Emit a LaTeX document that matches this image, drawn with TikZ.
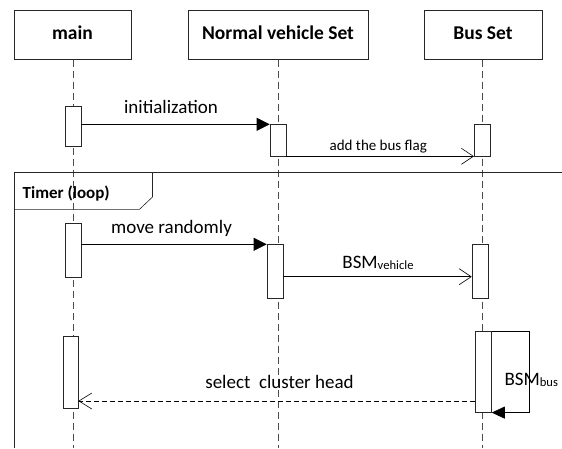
\documentclass[tikz,border=0pt]{standalone}
\usepackage{fontspec}
\setmainfont{Carlito}
\usetikzlibrary{arrows.meta}
\begin{document}
\begin{tikzpicture}[x=1pt,y=-1pt,
  header/.style={draw=black!85,line width=0.6pt,fill=white,minimum height=49.3pt,font=\fontsize{19.5}{22}\selectfont\bfseries,inner sep=0pt,text height=12pt,text depth=2.8pt},
  lifeline/.style={draw=black!70,line width=0.6pt,dash pattern=on 7pt off 4pt},
  frame/.style={draw=black!85,line width=0.6pt},
  act/.style={draw=black!85,line width=0.6pt,fill=white,minimum width=16pt,inner sep=0pt,anchor=north},
  msg/.style={font=\fontsize{19}{22}\selectfont,inner sep=0pt,anchor=base},
  smallmsg/.style={font=\fontsize{15}{18}\selectfont,inner sep=0pt,anchor=base},
  synch/.style={line width=0.6pt,-{Triangle[length=13pt,width=13pt]}},
  asynch/.style={line width=0.6pt,-{Straight Barb[length=12pt,width=16pt,line width=0.6pt]}},
  reply/.style={line width=0.6pt,dash pattern=on 5pt off 3pt,-{Straight Barb[length=13pt,width=16pt,line width=0.6pt]}}
]
\useasboundingbox (0,0) rectangle (562,448);
% headers
\node[header,minimum width=117pt] (main) at (72.5,34.7) {main};
\node[header,minimum width=180pt] (nv) at (278,34.7) {Normal vehicle Set};
\node[header,minimum width=118pt] (bus) at (483,34.7) {Bus Set};
% lifelines
\coordinate (mainend) at (73,448);
\coordinate (nvend) at (278.5,448);
\coordinate (busend) at (482,448);
\draw[lifeline] (main.south -| mainend) -- (mainend);
\draw[lifeline] (nv.south -| nvend) -- (nvend);
\draw[lifeline] (bus.south -| busend) -- (busend);
% loop frame
\coordinate (fbl) at (14,448);
\coordinate (ftl) at (14,172.7);
\coordinate (ftr) at (562,172.7);
\draw[frame] (fbl) -- (ftl) -- (ftr);
\draw[frame] (14,209.3) -- (139.5,209.3) -- (152.5,197) -- (152.5,172.7);
\node[font=\fontsize{17}{20}\selectfont\bfseries,anchor=base west,inner sep=0pt] (timer) at (22.5,198.3) {Timer (loop)};
% activations
\node[act,minimum height=40.3pt] (m1) at (73,105.7) {};
\node[act,minimum height=31.4pt] (n1) at (278,124.3) {};
\node[act,minimum height=31.4pt,minimum width=16.5pt] (b1) at (482.5,124.3) {};
\node[act,minimum height=54.2pt] (m2) at (73,222.5) {};
\node[act,minimum height=53.7pt] (n2) at (275,244.3) {};
\node[act,minimum height=53.7pt] (b2) at (480,244.3) {};
\node[act,minimum height=71.7pt,minimum width=15pt] (m3) at (70.5,336) {};
\node[act,minimum height=81pt,minimum width=16.5pt] (b3) at (483.2,331) {};
% messages
\draw[synch] (m1.east |- n1.north) -- (n1.north west);
\node[msg] (l1) at (171,113.3) {initialization};
\draw[asynch] (n1.south east) -- (b1.south west);
\node[smallmsg] (l2) at (378.3,150) {add the bus flag};
\draw[synch] (m2.east |- n2.north) -- (n2.north west);
\node[msg] (l3) at (171.5,233.5) {move randomly};
\draw[asynch] (n2.east |- 0,276.7) -- (b2.west |- 0,276.7);
\node[msg] (l4) at (378,268.3) {BSM\raisebox{-1.5pt}{\fontsize{12.6}{14}\selectfont vehicle}};
\coordinate (loopr) at (529.3,331);
\draw[line width=0.6pt,-{Triangle[length=13pt,width=12pt]}] (b3.north east) -- (loopr) |- (b3.south east);
\node[msg,anchor=base west] (l5) at (504.3,385) {BSM\raisebox{-1.5pt}{\fontsize{12.6}{14}\selectfont bus}};
\draw[reply] (b3.west |- 0,401) -- (m3.east |- 0,401);
\node[msg] (l6) at (279.5,388.3) {select\ \ cluster head};
\end{tikzpicture}
\end{document}
